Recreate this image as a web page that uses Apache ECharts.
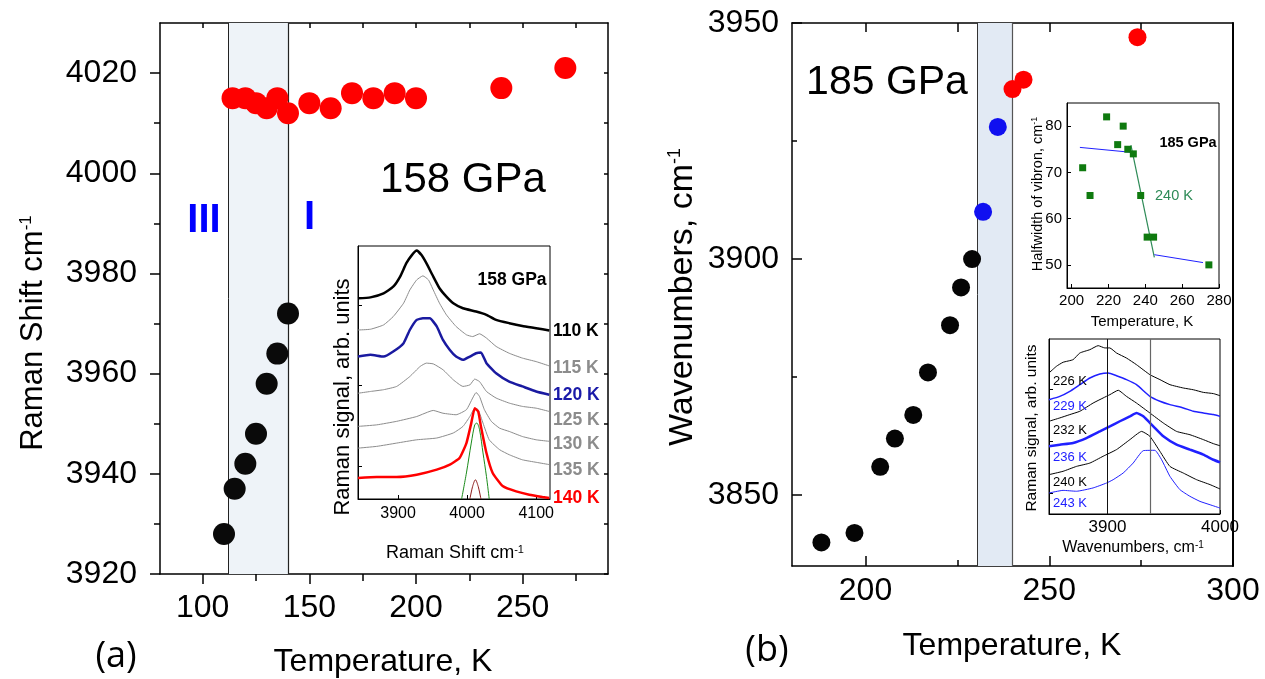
<!DOCTYPE html>
<html>
<head>
<meta charset="utf-8">
<script src="https://cdn.jsdelivr.net/npm/echarts@6/dist/echarts.min.js"></script>
<style>html,body{margin:0;padding:0;background:#fff}#c{width:1265px;height:679px}</style>
</head>
<body>
<div id="c"></div>
<script>
// ---------- Panel (a): 158 GPa ----------
const aBlackT = [110, 115, 120, 125, 130, 135, 140];
const aBlackW = [3928, 3937, 3942, 3948, 3958, 3964, 3972];
const aRedT = [114, 120, 125, 130, 135, 140, 150, 160, 170, 180, 190, 200, 240, 270];
const aRedW = [4015, 4015, 4014, 4013, 4015, 4012, 4014, 4013, 4016, 4015, 4016, 4015, 4017, 4021];
const aBand = [112, 140];
const aXTicks = [100, 150, 200, 250];
const aXMinor = [125, 175, 225, 275];
const aYTicks = [3920, 3940, 3960, 3980, 4000, 4020];
const aYMinor = [3930, 3950, 3970, 3990, 4010];

// inset (a): Raman spectra (intensity in arbitrary units, offset)
const insAXTicks = [3900, 4000, 4100];
const spec110 = [[3842,79.3],[3860,79.7],[3879,81.3],[3893,83.9],[3903,87.9],[3912,93.2],[3920,96.4],[3927,98.2],[3934,96.4],[3941,93.2],[3951,87.9],[3960,83.3],[3970,80],[3980,77.4],[3994,75.4],[4013,74.1],[4028,72.8],[4042,70.8],[4061,69.5],[4080,68.4],[4100,67.5],[4119,66.6]];
const spec115 = [[3842,66.8],[3860,67.1],[3879,68.8],[3893,72.1],[3908,77.4],[3917,82.6],[3927,86.6],[3936,88.2],[3944,86.6],[3951,82.6],[3960,77.4],[3970,72.8],[3984,68.2],[3999,64.9],[4008,64.2],[4018,65.3],[4028,63.6],[4042,60.3],[4061,57.6],[4080,55.7],[4100,54.3],[4119,52.6]];
const spec120 = [[3842,56.3],[3860,57],[3879,56.3],[3893,58.3],[3908,61.6],[3917,66.8],[3927,70.8],[3936,71.4],[3946,71.4],[3956,68.2],[3965,62.9],[3975,58.9],[3984,56.3],[3994,55],[4004,56.3],[4013,57.6],[4020,57.9],[4028,53.7],[4042,49.7],[4061,46.4],[4080,44.5],[4100,42.5],[4119,41.2]];
const spec125 = [[3842,41.8],[3860,42.5],[3879,43.2],[3898,44.5],[3917,48.4],[3932,52.4],[3941,53.7],[3951,53.4],[3965,51.1],[3980,47.1],[3994,44.5],[4004,45.1],[4011,47.4],[4018,46.4],[4028,42.5],[4042,39.9],[4061,37.9],[4080,36.6],[4100,35.9],[4119,34.6]];
const spec130 = [[3842,28.7],[3869,29.3],[3898,30.7],[3927,32.6],[3951,35],[3965,33.9],[3984,33.3],[3999,35.3],[4008,39.9],[4013,42.1],[4018,40.5],[4025,35.3],[4035,30.7],[4047,28],[4061,26.7],[4080,24.7],[4100,23.4],[4119,22.8]];
const spec135 = [[3842,20.1],[3869,20.8],[3898,22.1],[3927,23.4],[3956,24.1],[3980,26.1],[3994,28.7],[4004,32.6],[4011,35.9],[4016,35.3],[4023,30],[4032,23.4],[4047,19.5],[4061,17.5],[4080,15.5],[4100,14.5],[4119,13.6]];
const spec140 = [[3842,8.3],[3869,8.7],[3898,8.7],[3927,9.6],[3956,11.6],[3975,13.6],[3989,16.2],[3999,22.1],[4006,30],[4011,35.9],[4016,34.6],[4020,28.7],[4028,18.2],[4037,10.3],[4052,5],[4071,3],[4090,1.7],[4109,0.8],[4119,0.4]];
const fitGreen = [[3992,0],[3999,10.3],[4006,22.1],[4011,29.3],[4014,30],[4018,27.4],[4023,18.2],[4028,8.9],[4032,0]];
const fitDarkRed = [[4004,0],[4008,5],[4012,7.6],[4016,5],[4020,0]];
const insATempLabels = ['110 K', '115 K', '120 K', '125 K', '130 K', '135 K', '140 K'];

// ---------- Panel (b): 185 GPa ----------
const bBlackT = [188, 197, 204, 208, 213, 217, 223, 226, 229];
const bBlackW = [3840, 3842, 3856, 3862, 3867, 3876, 3886, 3894, 3900];
const bBlueT = [232, 236];
const bBlueW = [3910, 3928];
const bRedT = [240, 243, 274];
const bRedW = [3936, 3938, 3947];
const bBand = [230.5, 240];
const bXTicks = [200, 250, 300];
const bXMinor = [225, 275];
const bYTicks = [3850, 3900, 3950];
const bYMinor = [3875, 3925];

// inset (b) top: halfwidth of vibron
const hwT = [206, 210, 219, 225, 228, 230.5, 233.5, 237.5, 241, 244.5, 274.5];
const hwV = [71, 65, 82, 76, 80, 75, 74, 65, 56, 56, 50];
const hwFitBlue1 = [[204.5, 75.4], [233.3, 74.3]];
const hwFitGreen = [[232.2, 75.9], [244.9, 51.6]];
const hwFitBlue2 = [[244.9, 52.2], [271.3, 50.5]];
const hwXTicks = [200, 220, 240, 260, 280];
const hwYTicks = [50, 60, 70, 80];

// inset (b) bottom: spectra
const s226 = [[3848,80.6],[3854.6,84.4],[3860.5,86.7],[3869.4,88.2],[3875.4,92],[3884.3,93.9],[3891.7,96.2],[3897.6,94.9],[3902,94.9],[3908,92],[3916.9,89.1],[3925.8,85.3],[3937.7,79.6],[3946.6,76.8],[3955.5,73.9],[3967.4,72],[3976.3,71],[3985.2,69.5],[3994.1,68.8],[4000,67.6]];
const s229 = [[3848,65.3],[3857.6,67.2],[3866.5,70.1],[3875.4,73.9],[3884.3,77.7],[3893.2,80],[3900.6,80.6],[3908,79],[3916.9,76.8],[3925.8,73.9],[3937.7,67.2],[3946.6,64.4],[3955.5,62.5],[3967.4,60.6],[3976.3,58.7],[3985.2,57.7],[3994.1,56.8],[4000,55.8]];
const s232 = [[3848,53],[3857.6,54.9],[3866.5,56.8],[3875.4,58.7],[3887.2,63.4],[3896.1,66.3],[3902.1,68.2],[3909.5,70.7],[3916.9,67.2],[3925.8,63.4],[3937.7,57.7],[3949.6,52],[3961.4,47.2],[3973.3,45.3],[3985.2,42.5],[3994.1,40.2],[4000,39]];
const s236 = [[3848,38.7],[3857.6,39.6],[3869.4,40.6],[3881.3,43.4],[3893.2,47.2],[3902.1,50.1],[3911,53],[3919.9,55.8],[3925.8,57.7],[3931.8,55.8],[3940.7,50.1],[3949.6,44.4],[3961.4,39.6],[3973.3,36.8],[3985.2,33.9],[3994.1,31],[4000,29.5]];
const s240 = [[3848,22.5],[3860.5,24.4],[3872.4,27.2],[3884.3,29.1],[3896.1,33],[3908,36.8],[3919.9,42.5],[3930.3,47.2],[3937.7,44.4],[3946.6,35.8],[3955.5,27.2],[3967.4,23.4],[3979.2,19.6],[3991.1,16.8],[4000,14.3]];
const s243 = [[3848,12],[3860.5,13.5],[3872.4,13],[3887.2,14.9],[3899.1,17.7],[3905,19.6],[3913.9,23.4],[3922.8,29.1],[3931.8,36.2],[3942.1,36.4],[3948.1,31],[3955.5,21.5],[3964.4,13.9],[3973.3,10.1],[3982.2,7.2],[3991.1,5.3],[4000,3.4]];
const specMarkers = [3900, 3938];
const insBXTicks = [3900, 4000];
const insBTempLabels = ['226 K', '229 K', '232 K', '236 K', '240 K', '243 K'];

// ---------- build ----------
const F = '"Liberation Sans", Arial, Helvetica, sans-serif';
const zip = (a, b) => a.map((v, i) => [v, b[i]]);
const plain = v => String(v);

function xAx(grid, min, max, o) {
  o = o || {};
  return {
    type: 'value', gridIndex: grid, min: min, max: max, position: o.pos || 'bottom',
    axisLine: { show: o.line !== false, onZero: false, lineStyle: { color: '#000', width: o.lw || 1.5 } },
    axisTick: { show: !!o.ticks, inside: !!o.inside, length: o.tl || 8, customValues: o.ticks || [], lineStyle: { color: '#000', width: o.tw || 1.5 } },
    axisLabel: o.labels ? { show: true, customValues: o.labels, formatter: plain, fontSize: o.fs, fontFamily: F, color: '#000', margin: o.margin } : { show: false },
    splitLine: { show: false }
  };
}
function yAx(grid, min, max, o) {
  o = o || {};
  return {
    type: 'value', gridIndex: grid, min: min, max: max, position: o.pos || 'left',
    axisLine: { show: o.line !== false, onZero: false, lineStyle: { color: '#000', width: o.lw || 1.5 } },
    axisTick: { show: !!o.ticks, inside: !!o.inside, length: o.tl || 8, customValues: o.ticks || [], lineStyle: { color: '#000', width: o.tw || 1.5 } },
    axisLabel: o.labels ? { show: true, customValues: o.labels, formatter: plain, fontSize: o.fs, fontFamily: F, color: '#000', margin: o.margin } : { show: false },
    splitLine: { show: false }
  };
}

const grids = [
  { left: 160, top: 23, width: 448, height: 551 },
  { left: 358, top: 246, width: 192, height: 253, show: true, backgroundColor: '#fff', borderColor: '#000', borderWidth: 1 },
  { left: 792, top: 23, width: 441, height: 543 },
  { left: 1067, top: 103, width: 152, height: 185, show: true, backgroundColor: '#fff', borderColor: '#000', borderWidth: 1 },
  { left: 1049, top: 339, width: 171, height: 175, show: true, backgroundColor: '#fff', borderColor: '#000', borderWidth: 1 }
].map(g => Object.assign({ outerBoundsMode: 'none', containLabel: false }, g));

const xAxes = [
  xAx(0, 80, 290, { ticks: aXTicks, labels: aXTicks, fs: 32, margin: 18, tl: 10 }),                 // 0
  xAx(0, 80, 290, { ticks: aXMinor, line: false, tl: 7 }),                                           // 1
  xAx(0, 80, 290, { pos: 'top', ticks: aXTicks.concat(aXMinor), inside: true, tl: 5 }),              // 2
  xAx(1, 3842, 4120, { ticks: insAXTicks, labels: insAXTicks, fs: 16, margin: 7, inside: true, tl: 4, lw: 1, tw: 1 }), // 3
  xAx(2, 180, 300, { ticks: bXTicks, labels: bXTicks, fs: 32, margin: 9, inside: true, tl: 10 }),    // 4
  xAx(2, 180, 300, { ticks: bXMinor, line: false, inside: true, tl: 6 }),                           // 5
  xAx(2, 180, 300, { pos: 'top', ticks: bXTicks.concat(bXMinor), inside: true, tl: 9 }),            // 6
  xAx(3, 197.5, 280, { ticks: hwXTicks, labels: hwXTicks, fs: 15, margin: 5, inside: true, tl: 4, lw: 1, tw: 1 }), // 7
  xAx(4, 3848, 4000, { ticks: insBXTicks, labels: insBXTicks, fs: 17, margin: 5, inside: true, tl: 4, lw: 1, tw: 1 }) // 8
];
const yAxes = [
  yAx(0, 3920, 4030, { ticks: aYTicks, labels: aYTicks, fs: 32, margin: 23, tl: 10 }),              // 0
  yAx(0, 3920, 4030, { ticks: aYMinor, line: false, tl: 6 }),                                       // 1
  yAx(0, 3920, 4030, { pos: 'right', ticks: aYTicks.concat(aYMinor), inside: true, tl: 4 }),         // 2
  yAx(1, 0, 100, { ticks: [12.9, 44.9, 76.7], inside: true, tl: 4, lw: 1, tw: 1 }),                 // 3
  yAx(2, 3835, 3950, { ticks: bYTicks, labels: bYTicks, fs: 32, margin: 13, inside: true, tl: 10 }), // 4
  yAx(2, 3835, 3950, { ticks: bYMinor, line: false, inside: true, tl: 5 }),                          // 5
  yAx(2, 3835, 3950, { pos: 'right', lw: 2 }),                                                       // 6
  yAx(3, 45, 85, { ticks: hwYTicks, labels: hwYTicks, fs: 15, margin: 5, inside: true, tl: 4, lw: 1, tw: 1 }), // 7
  yAx(4, 0, 100, { ticks: [12, 41.5, 71.4], inside: true, tl: 4, lw: 1, tw: 1 })                    // 8
];

function scatter(x, y, data, color, size, extra) {
  return Object.assign({ type: 'scatter', xAxisIndex: x, yAxisIndex: y, data: data, symbolSize: size,
    itemStyle: { color: color, opacity: 1 }, silent: true, z: 5 }, extra || {});
}
function line(x, y, data, color, width, extra) {
  return Object.assign({ type: 'line', xAxisIndex: x, yAxisIndex: y, data: data, showSymbol: false, symbol: 'none',
    smooth: 0.15, lineStyle: { color: color, width: width }, silent: true, z: 4, animation: false }, extra || {});
}
function band(b, color, lineColors) {
  return {
    markArea: { silent: true, itemStyle: { color: color }, data: [[{ xAxis: b[0] }, { xAxis: b[1] }]] },
    markLine: { silent: true, symbol: 'none', label: { show: false },
      data: [{ xAxis: b[0], lineStyle: { color: lineColors[0], width: 1, type: 'solid' } },
             { xAxis: b[1], lineStyle: { color: lineColors[1], width: 1.2, type: 'solid' } }] }
  };
}

const series = [
  scatter(0, 0, zip(aBlackT, aBlackW), '#0a0a0a', 22, band(aBand, '#eef3f8', ['#222', '#222'])),
  scatter(0, 0, zip(aRedT, aRedW), '#ff0000', 22),
  line(3, 3, spec110, '#000000', 2.5),
  line(3, 3, spec115, '#8c8c8c', 1),
  line(3, 3, spec120, '#1a1aa0', 2.5),
  line(3, 3, spec125, '#8c8c8c', 1),
  line(3, 3, spec130, '#8c8c8c', 1),
  line(3, 3, spec135, '#8c8c8c', 1),
  line(3, 3, spec140, '#ff0000', 2.5),
  line(3, 3, fitGreen, '#1a8a1a', 1, { smooth: 0.3 }),
  line(3, 3, fitDarkRed, '#8b1a1a', 1, { smooth: 0.3 }),
  scatter(4, 4, zip(bBlackT, bBlackW), '#050505', 18, band(bBand, '#e2eaf4', ['#333', '#555'])),
  scatter(4, 4, zip(bBlueT, bBlueW), '#1010f0', 18),
  scatter(4, 4, zip(bRedT, bRedW), '#ff0000', 18),
  line(7, 7, hwFitBlue1, '#2020ff', 1, { smooth: false }),
  line(7, 7, hwFitGreen, '#2e8b57', 1.2, { smooth: false }),
  line(7, 7, hwFitBlue2, '#2020ff', 1, { smooth: false }),
  scatter(7, 7, zip(hwT, hwV), '#0f7a0f', 7, { symbol: 'rect' }),
  line(8, 8, s226, '#000000', 1, { markLine: { silent: true, symbol: 'none', label: { show: false },
      data: [{ xAxis: specMarkers[0], lineStyle: { color: '#111', width: 1, type: 'solid' } },
             { xAxis: specMarkers[1], lineStyle: { color: '#666', width: 1.2, type: 'solid' } }] } }),
  line(8, 8, s229, '#2020ff', 1.5),
  line(8, 8, s232, '#000000', 1),
  line(8, 8, s236, '#2020ff', 2.5),
  line(8, 8, s240, '#000000', 1),
  line(8, 8, s243, '#2020ff', 1)
];

function T(x, y, text, size, o) {
  o = o || {};
  return { type: 'text', x: x, y: y, rotation: o.rot || 0, z: 100, silent: true,
    style: { text: text, fill: o.color || '#000', fontSize: size, fontFamily: o.family || F,
      fontWeight: o.bold ? 'bold' : 'normal', align: o.align || 'center', verticalAlign: 'middle',
      rich: o.sup ? { s: { fontSize: o.sup, fontFamily: o.family || F, fill: o.color || '#000', verticalAlign: 'top' } } : undefined } };
}
const R = Math.PI / 2;
const insAColors = ['#000', '#8c8c8c', '#1a1aa8', '#8c8c8c', '#8c8c8c', '#8c8c8c', '#ff0000'];
const insAY = [331, 368, 395, 420, 444, 470, 498];
const insBColors = ['#000', '#2020ff', '#000', '#2020ff', '#000', '#2020ff'];
const insBY = [381, 406, 430, 457, 482, 503];

const graphics = [
  T(33, 333, 'Raman Shift cm{s|-1}', 31, { rot: R, sup: 17 }),
  T(383, 662, 'Temperature, K', 32),
  T(116, 657, '(a)', 36, { family: '"Open Sans", sans-serif' }),
  T(204, 221, 'III', 40, { bold: true, color: '#0000ff' }),
  T(309.5, 218, 'I', 40, { bold: true, color: '#0000ff' }),
  T(463, 180, '158 GPa', 42),
  T(343, 397, 'Raman signal, arb. units', 22, { rot: R }),
  T(455, 553, 'Raman Shift cm{s|-1}', 18, { sup: 11 }),
  T(512, 280, '158 GPa', 17.5, { bold: true }),
  T(683, 297, 'Wavenumbers, cm{s|-1}', 34, { rot: R, sup: 18 }),
  T(1012, 646, 'Temperature, K', 32),
  T(767, 651, '(b)', 36, { family: '"Open Sans", sans-serif' }),
  T(887, 83, '185 GPa', 41),
  T(1188, 143, '185 GPa', 14.5, { bold: true }),
  T(1174, 196, '240 K', 14.5, { color: '#2e8b57' }),
  T(1038, 194, 'Halfwidth of vibron, cm{s|-1}', 14.5, { rot: R, sup: 9 }),
  T(1142, 322, 'Temperature, K', 15),
  T(1032, 428, 'Raman signal, arb. units', 15.5, { rot: R }),
  T(1133, 548, 'Wavenumbers, cm{s|-1}', 16, { sup: 10 })
];
insATempLabels.forEach((t, i) => graphics.push(T(553, insAY[i], t, 17.5, { bold: true, color: insAColors[i], align: 'left' })));
insBTempLabels.forEach((t, i) => graphics.push(T(1053, insBY[i], t, 13, { color: insBColors[i], align: 'left' })));

const chart = echarts.init(document.getElementById('c'), null, { renderer: 'canvas' });
chart.setOption({
  animation: false,
  backgroundColor: '#fff',
  grid: grids,
  xAxis: xAxes,
  yAxis: yAxes,
  series: series,
  graphic: graphics
});
</script>
</body>
</html>
